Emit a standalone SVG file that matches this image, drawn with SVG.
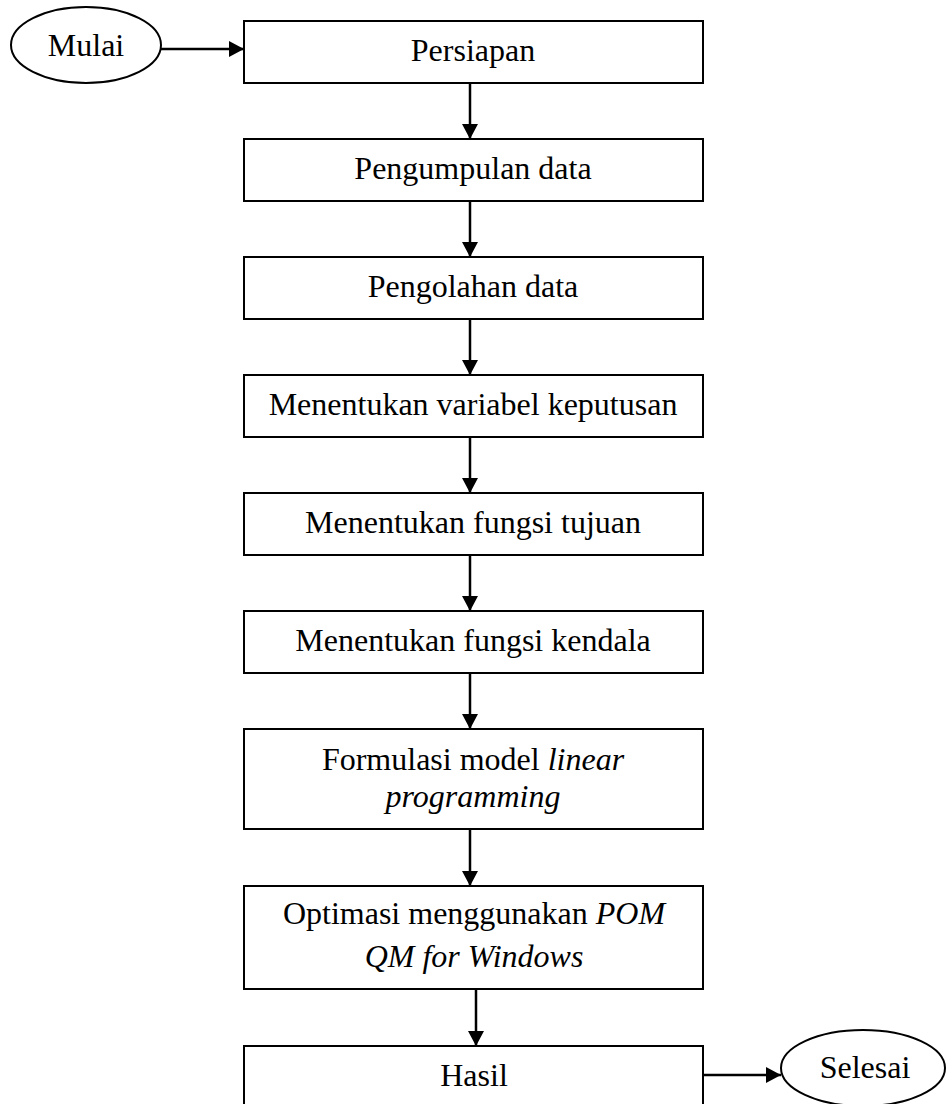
<svg xmlns="http://www.w3.org/2000/svg" width="947" height="1104" viewBox="0 0 947 1104">
<style>
.box{fill:#fff;stroke:#000;stroke-width:2}
.t{font-family:"Liberation Serif","Times New Roman",serif;font-size:32px;fill:#000;text-anchor:middle}
.i{font-style:italic}
.c{stroke:#000;stroke-width:2.5;fill:none;marker-end:url(#ah)}
</style>
<defs>
<marker id="ah" markerUnits="userSpaceOnUse" markerWidth="17" markerHeight="17" refX="15" refY="8" orient="auto">
<path d="M0,0 L15,8 L0,16 Z" fill="#000"/>
</marker>
</defs>
<rect width="947" height="1104" fill="#fff"/>
<g id="connectors">
<line class="c" x1="161" y1="49" x2="244" y2="49"/>
<line class="c" x1="470" y1="83" x2="470" y2="139"/>
<line class="c" x1="470" y1="201" x2="470" y2="257"/>
<line class="c" x1="470" y1="319" x2="470" y2="375"/>
<line class="c" x1="470" y1="437" x2="470" y2="493"/>
<line class="c" x1="470" y1="555" x2="470" y2="611"/>
<line class="c" x1="470" y1="673" x2="470" y2="729"/>
<line class="c" x1="470" y1="829" x2="470" y2="886"/>
<line class="c" x1="476" y1="989" x2="476" y2="1046"/>
<line class="c" x1="703" y1="1075" x2="781" y2="1075"/>
</g>
<g id="mulai">
<ellipse cx="86" cy="45" rx="75" ry="38" class="box"/>
<text class="t" x="86" y="56">Mulai</text>
</g>
<g id="persiapan">
<rect class="box" x="244" y="21" width="459" height="62"/>
<text class="t" x="473" y="61">Persiapan</text>
</g>
<g id="pengumpulan">
<rect class="box" x="244" y="139" width="459" height="62"/>
<text class="t" x="473" y="179">Pengumpulan data</text>
</g>
<g id="pengolahan">
<rect class="box" x="244" y="257" width="459" height="62"/>
<text class="t" x="473" y="297">Pengolahan data</text>
</g>
<g id="variabel">
<rect class="box" x="244" y="375" width="459" height="62"/>
<text class="t" x="473" y="415">Menentukan variabel keputusan</text>
</g>
<g id="tujuan">
<rect class="box" x="244" y="493" width="459" height="62"/>
<text class="t" x="473" y="533">Menentukan fungsi tujuan</text>
</g>
<g id="kendala">
<rect class="box" x="244" y="611" width="459" height="62"/>
<text class="t" x="473" y="651">Menentukan fungsi kendala</text>
</g>
<g id="formulasi">
<rect class="box" x="244" y="729" width="459" height="100"/>
<text class="t" x="473" y="770">Formulasi model <tspan class="i">linear</tspan></text>
<text class="t i" x="473" y="807">programming</text>
</g>
<g id="optimasi">
<rect class="box" x="244" y="886" width="459" height="103"/>
<text class="t" x="474" y="924">Optimasi menggunakan <tspan class="i">POM</tspan></text>
<text class="t i" x="474" y="967">QM for Windows</text>
</g>
<g id="hasil">
<rect class="box" x="244" y="1046" width="459" height="62"/>
<text class="t" x="474" y="1086">Hasil</text>
</g>
<g id="selesai">
<ellipse cx="863" cy="1068" rx="82" ry="38" class="box"/>
<text class="t" x="865" y="1078">Selesai</text>
</g>
</svg>
